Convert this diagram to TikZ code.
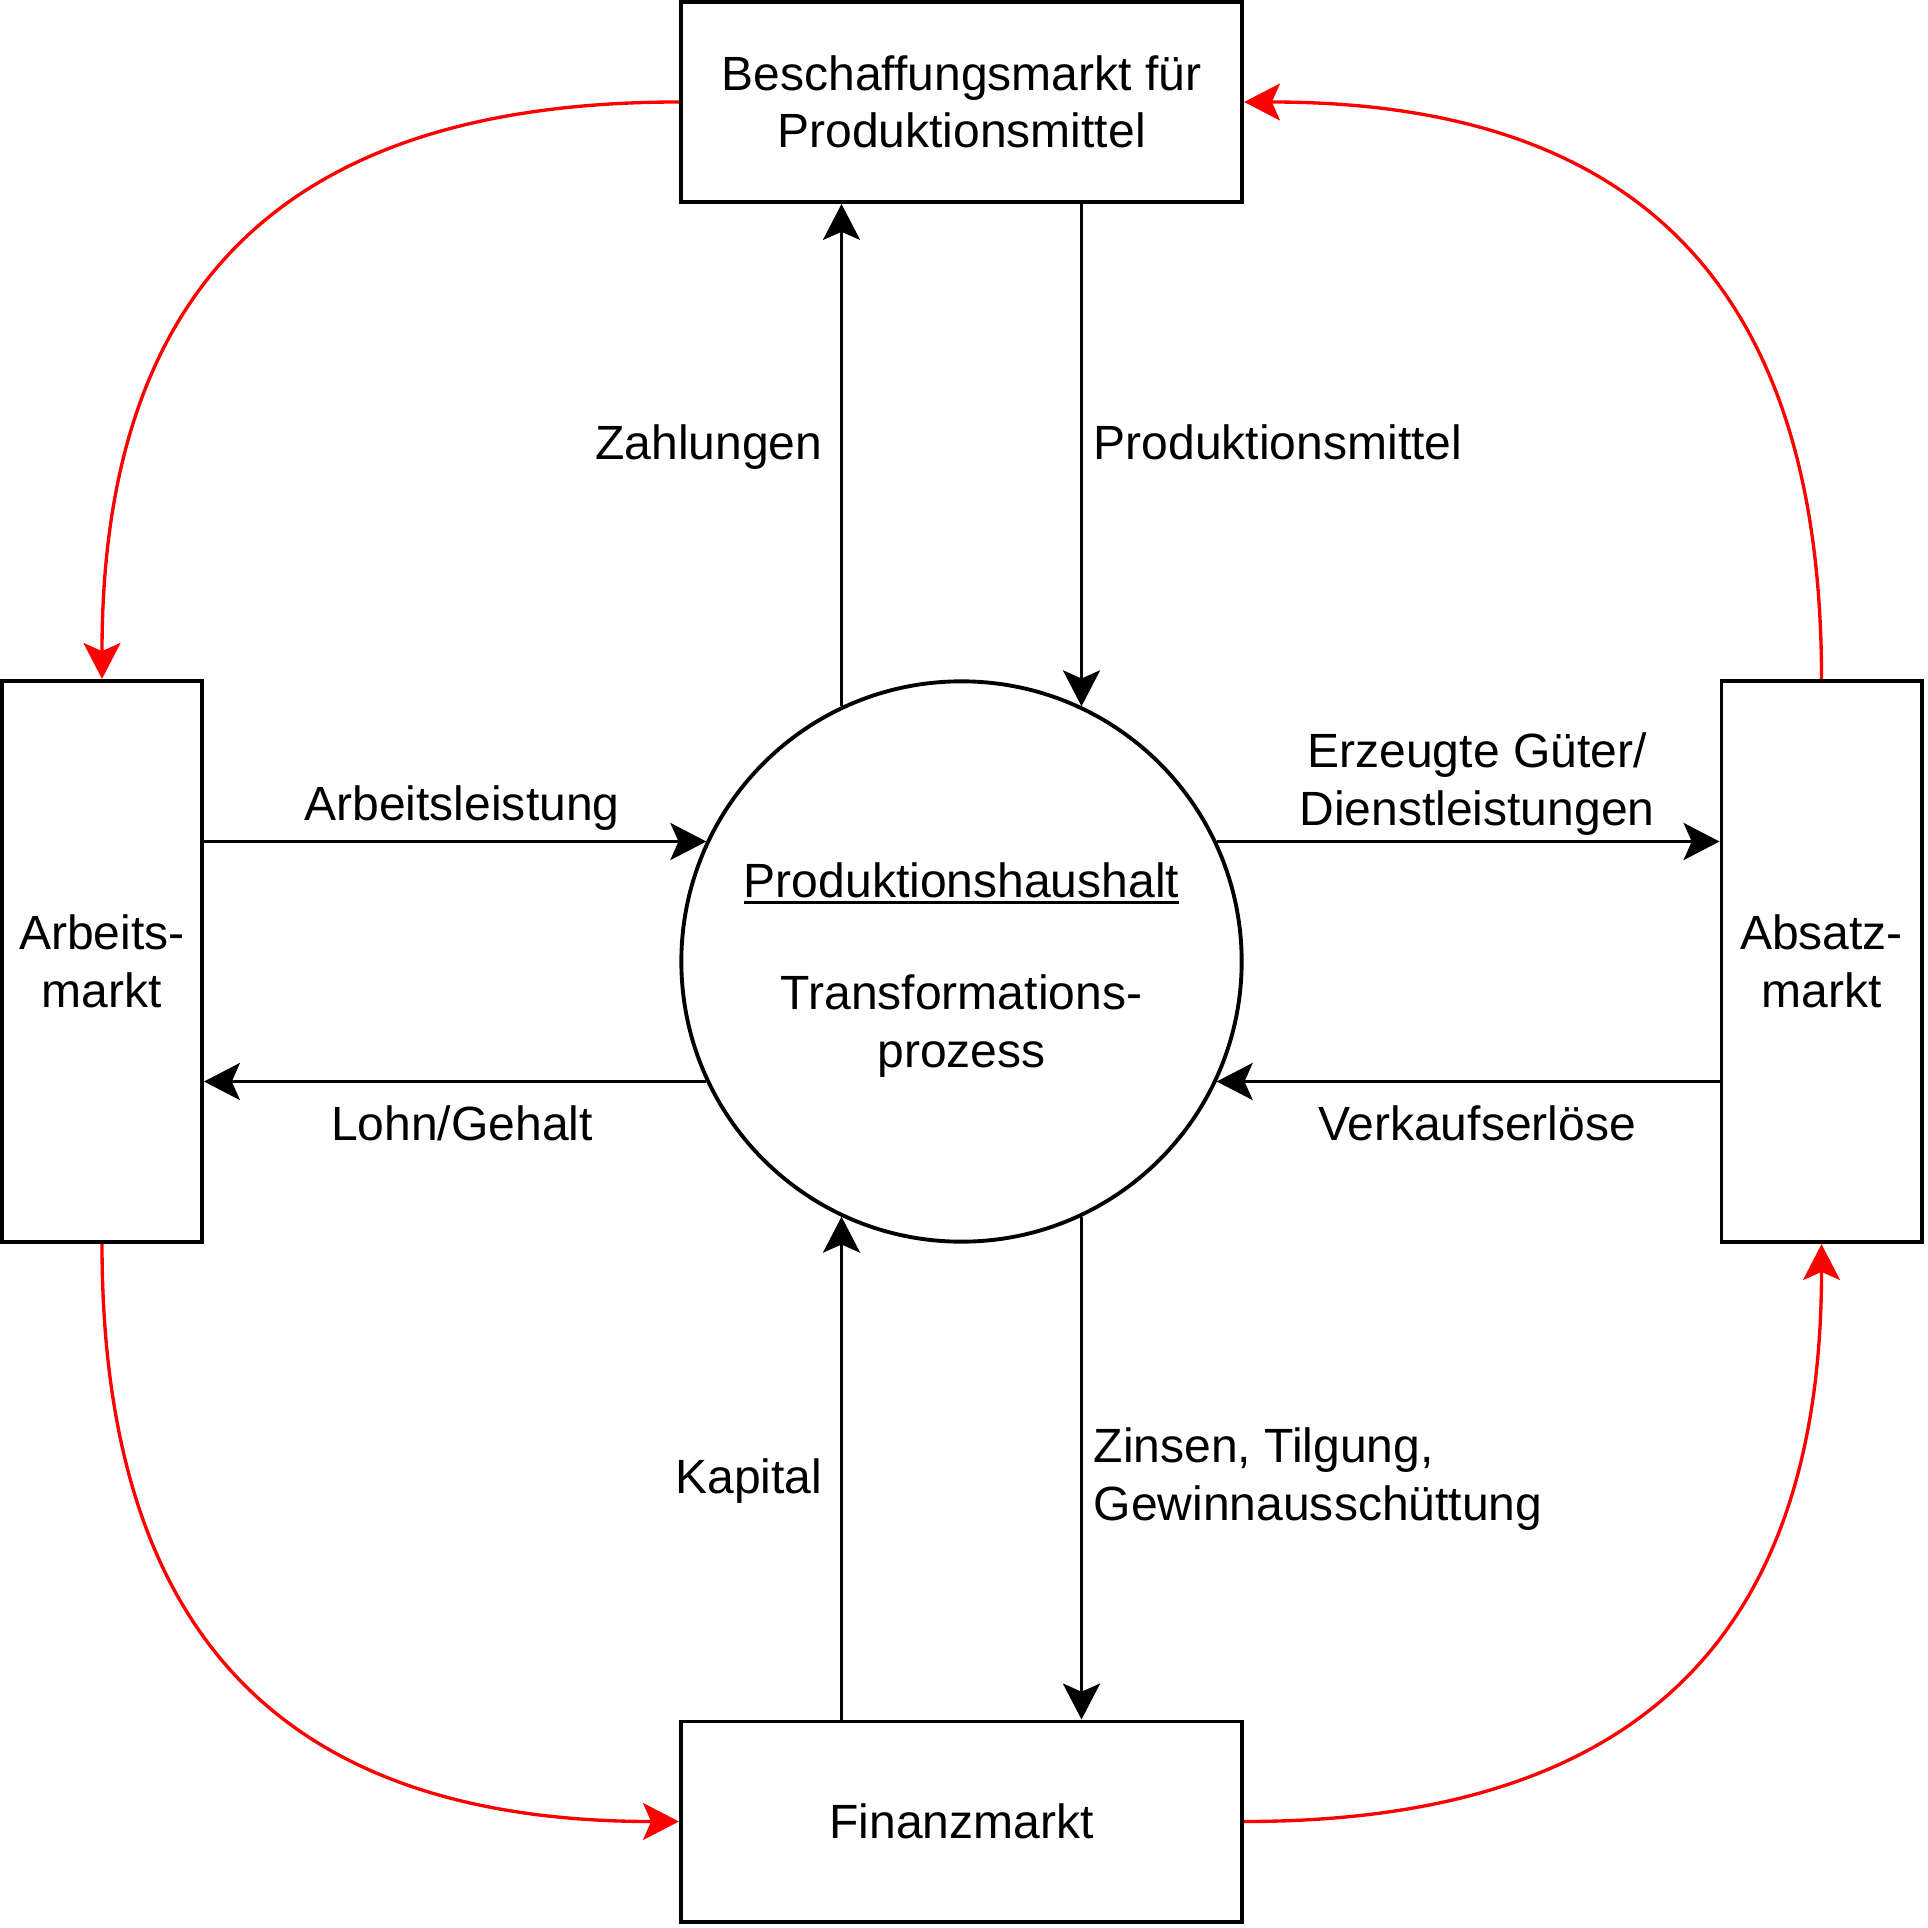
\documentclass[tikz,border=0pt]{standalone}
\usepackage{fontspec}
\setmainfont{Liberation Sans}
\usetikzlibrary{arrows.meta,calc}
\newcommand\ulin[1]{\setbox0\hbox{#1}\rlap{\rule[-1.9pt]{\wd0}{1pt}}\box0}
\begin{document}
\begin{tikzpicture}[x=0.01cm, y=-0.01cm,
  every node/.style={font=\fontsize{13.66pt}{16.4pt}\selectfont, inner sep=0pt},
  hbx/.style={draw, line width=1.1pt, align=center, minimum width=5.61cm, minimum height=2cm},
  vbx/.style={draw, line width=1.1pt, align=center, minimum width=2cm, minimum height=5.61cm},
  flow/.style={line width=1.1pt, -{Stealth[length=10.2pt,width=10.5pt,inset=2.3pt]}},
  market/.style={color=red, line width=0.95pt, -{Stealth[length=10.2pt,width=10.5pt,inset=2.3pt]}}]
\useasboundingbox (0,0) rectangle (1928,1928);
% markets
\node[hbx] (beschaffung) at (961.5,102) {Beschaffungsmarkt für\\Produktionsmittel};
\node[vbx] (arbeit) at (102,961.5) {Arbeits-\\markt};
\node[vbx] (absatz) at (1821.5,961.5) {Absatz-\\markt};
\node[hbx] (finanz) at (961.5,1821.5) {Finanzmarkt};
% household
\node[draw, circle, line width=1.1pt, minimum size=5.6cm, align=center] (prod) at (961.5,961.5)
  {\rule{0pt}{14.7pt}\ulin{Produktionshaushalt}\\[15.4pt]Transformations-\\prozess};
% points on the circle
\coordinate (pTL) at ($(prod.center)+(-120,-255.2)$);
\coordinate (pTR) at ($(prod.center)+(120,-255.2)$);
\coordinate (pLU) at ($(prod.center)+(-255.2,-120)$);
\coordinate (pLL) at ($(prod.center)+(-255.2,120)$);
\coordinate (pRU) at ($(prod.center)+(255.2,-120)$);
\coordinate (pRL) at ($(prod.center)+(255.2,120)$);
\coordinate (pBL) at ($(prod.center)+(-120,255.2)$);
\coordinate (pBR) at ($(prod.center)+(120,255.2)$);
% flows
\draw[flow] (pTL) -- (pTL |- beschaffung.south);
\draw[flow] (pTR |- beschaffung.south) -- (pTR);
\draw[flow] (arbeit.east |- pLU) -- (pLU);
\draw[flow] (pLL) -- (arbeit.east |- pLL);
\draw[flow] (pRU) -- (absatz.west |- pRU);
\draw[flow] (absatz.west |- pRL) -- (pRL);
\draw[flow] (pBL |- finanz.north) -- (pBL);
\draw[flow] (pBR) -- (pBR |- finanz.north);
% market cycle
\draw[market] (beschaffung.west) .. controls +(-393,0) and +(0,-393) .. (arbeit.north);
\draw[market] (absatz.north) .. controls +(0,-393) and +(393,0) .. (beschaffung.east);
\draw[market] (arbeit.south) .. controls +(0,393) and +(-393,0) .. (finanz.west);
\draw[market] (finanz.east) .. controls +(393,0) and +(0,393) .. (absatz.south);
% labels
\node[anchor=base east] (lzahl) at (823,460) {Zahlungen};
\node[anchor=base west] (lprodm) at (1093,460) {Produktionsmittel};
\node[anchor=base] (larb) at (462,820) {Arbeitsleistung};
\node[anchor=base] (llohn) at (462,1140) {Lohn/Gehalt};
\node[align=center] (lgueter) at (1477,784) {Erzeugte Güter/\\Dienstleistungen};
\node[anchor=base] (lverk) at (1477,1140) {Verkaufserlöse};
\node[anchor=base east] (lkap) at (823,1493) {Kapital};
\node[anchor=west, align=left] (lzins) at (1093,1479) {Zinsen, Tilgung,\\Gewinnausschüttung};
\end{tikzpicture}
\end{document}
